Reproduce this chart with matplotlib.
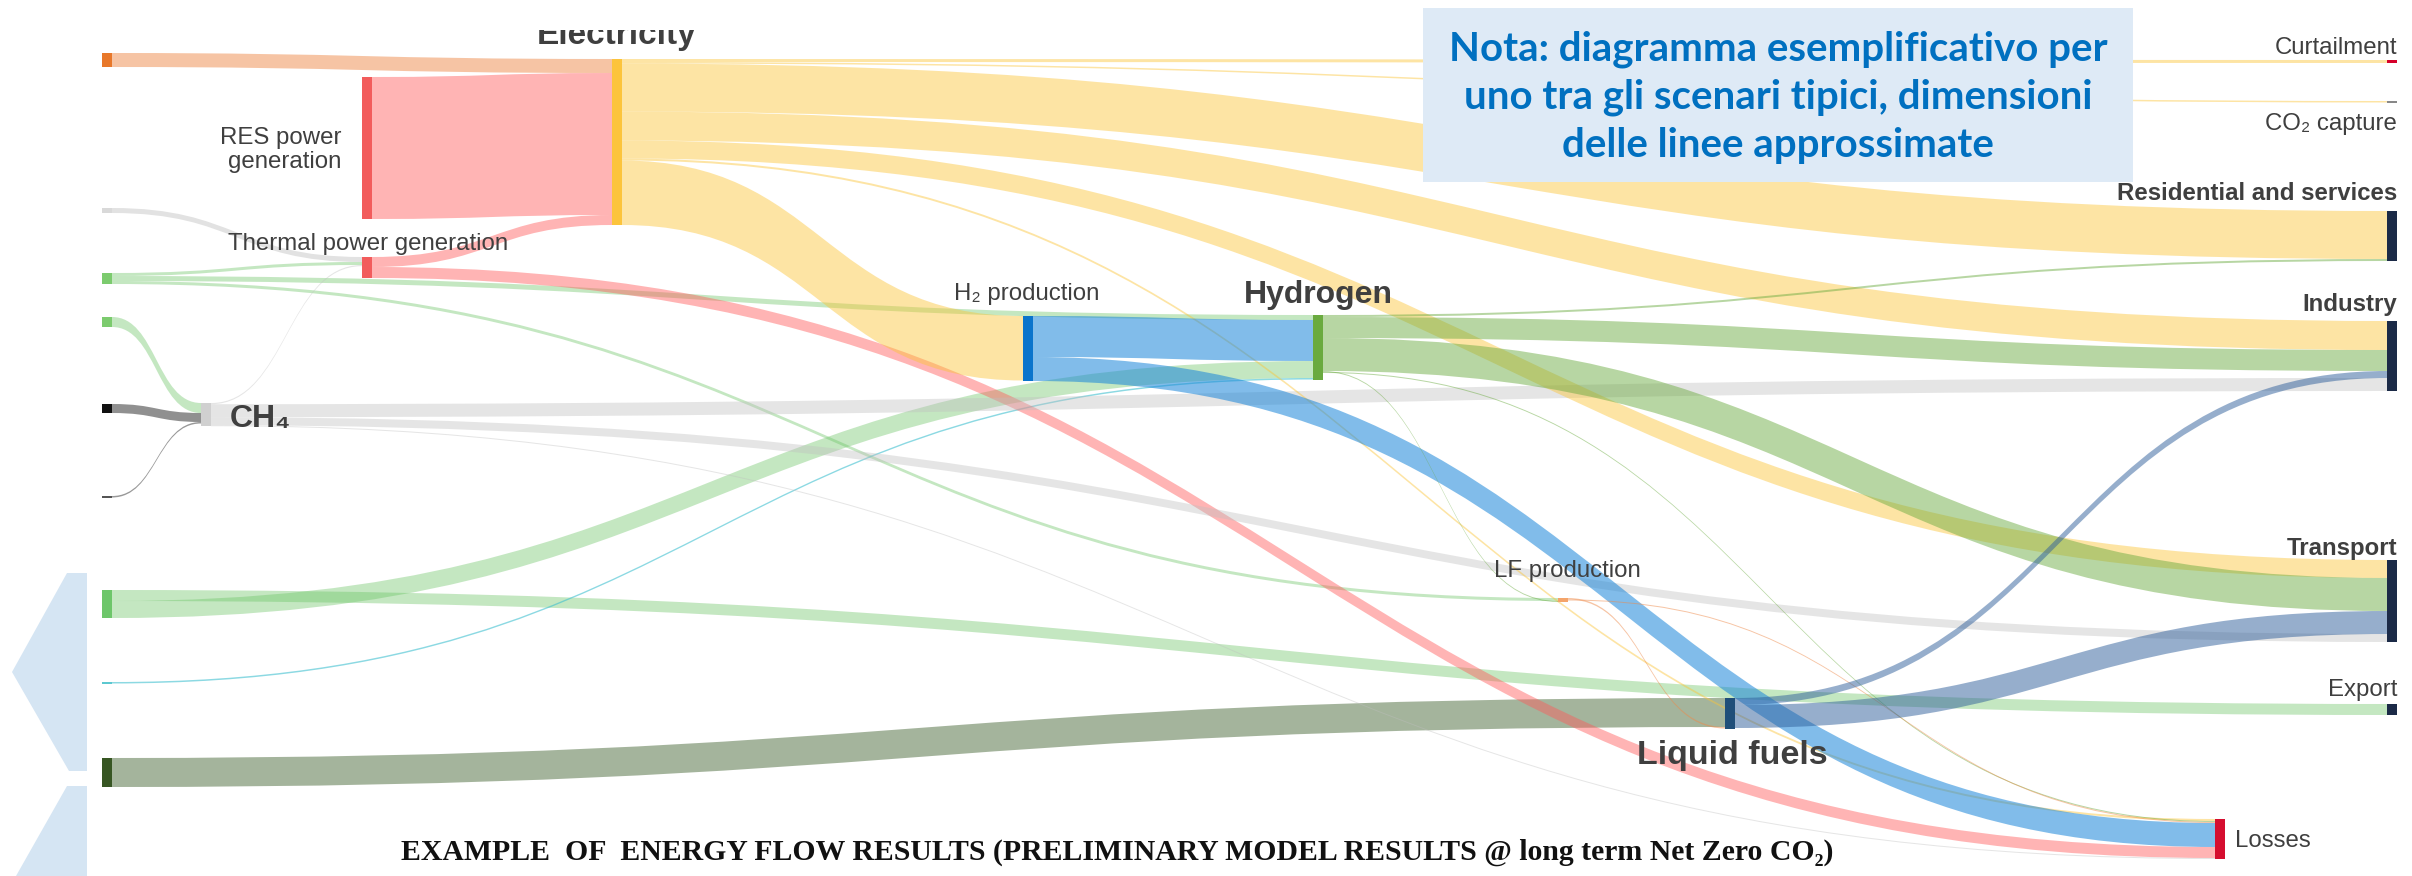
import matplotlib
matplotlib.use("Agg")
import matplotlib.pyplot as plt
from matplotlib.path import Path
from matplotlib.patches import PathPatch, Rectangle, Polygon

# ---- data: nodes and flows (values in arbitrary energy units) ----
nodes = ["imp", "grey", "bio1", "bio2", "gas", "small", "bio3", "cyan", "oil",
         "CH4", "RES", "Thermal", "Electricity", "H2prod", "Hydrogen",
         "LFprod", "Liquid fuels", "Losses", "Curtailment", "CO2 capture",
         "Residential", "Industry", "Transport", "Export"]

link_source = ["imp", "grey", "bio1", "bio1", "bio1", "bio2", "gas", "small",
               "bio3", "bio3", "cyan", "oil", "RES", "Thermal", "Thermal",
               "CH4", "CH4", "CH4", "CH4",
               "Electricity", "Electricity", "Electricity", "Electricity",
               "Electricity", "Electricity", "Electricity",
               "H2prod", "H2prod",
               "Hydrogen", "Hydrogen", "Hydrogen", "Hydrogen", "Hydrogen",
               "LFprod", "LFprod", "Liquid fuels", "Liquid fuels"]
link_target = ["Electricity", "Thermal", "Thermal", "Hydrogen", "LFprod", "CH4", "CH4", "CH4",
               "Export", "Hydrogen", "Hydrogen", "Liquid fuels", "Electricity", "Electricity", "Losses",
               "Thermal", "Industry", "Transport", "Losses",
               "Curtailment", "CO2 capture", "Residential", "Industry",
               "Transport", "Losses", "H2prod",
               "Hydrogen", "Losses",
               "Residential", "Industry", "Transport", "LFprod", "Losses",
               "Liquid fuels", "Losses", "Industry", "Transport"]
link_value = [14, 5, 3, 5, 3, 10, 9, 1.5,
              11, 17, 1.5, 29, 142, 10, 11,
              1.2, 13, 8, 1,
              3, 1.5, 48, 29,
              18, 2, 64.5,
              41, 24,
              2, 21, 33, 1, 1,
              1.5, 1, 7, 23]

# ---- layout ----
node_left = {"imp": 102, "grey": 102, "bio1": 102, "bio2": 102, "gas": 102, "small": 102,
             "bio3": 102, "cyan": 102, "oil": 102, "CH4": 201, "RES": 362, "Thermal": 362,
             "Electricity": 612, "H2prod": 1023, "Hydrogen": 1313, "LFprod": 1558,
             "Liquid fuels": 1725, "Losses": 2215, "Curtailment": 2387, "CO2 capture": 2387,
             "Residential": 2387, "Industry": 2387, "Transport": 2387, "Export": 2387}
node_top = {"imp": 53, "grey": 208, "bio1": 273, "bio2": 317, "gas": 404, "small": 496,
            "bio3": 590, "cyan": 682, "oil": 758, "CH4": 403, "RES": 77, "Thermal": 257,
            "Electricity": 59, "H2prod": 316, "Hydrogen": 315, "LFprod": 598,
            "Liquid fuels": 698, "Losses": 819, "Curtailment": 60, "CO2 capture": 101,
            "Residential": 211, "Industry": 321, "Transport": 560, "Export": 704}
node_w = 10

out_order = {"bio1": ["Thermal", "Hydrogen", "LFprod"],
             "bio3": ["Export", "Hydrogen"],
             "Thermal": ["Electricity", "Losses"],
             "CH4": ["Thermal", "Industry", "Transport", "Losses"],
             "Electricity": ["Curtailment", "CO2 capture", "Residential", "Industry",
                             "Transport", "Losses", "H2prod"],
             "H2prod": ["Hydrogen", "Losses"],
             "Hydrogen": ["Residential", "Industry", "Transport", "LFprod", "Losses"],
             "LFprod": ["Liquid fuels", "Losses"],
             "Liquid fuels": ["Industry", "Transport"]}
in_order = {"Electricity": ["imp", "RES", "Thermal"],
            "Thermal": ["grey", "bio1", "CH4"],
            "CH4": ["bio2", "gas", "small"],
            "Hydrogen": ["bio1", "H2prod", "bio3", "cyan"],
            "LFprod": ["bio1", "Hydrogen"],
            "Liquid fuels": ["oil", "LFprod"],
            "Residential": ["Electricity", "Hydrogen"],
            "Industry": ["Electricity", "Hydrogen", "Liquid fuels", "CH4"],
            "Transport": ["Electricity", "Hydrogen", "Liquid fuels", "CH4"],
            "Losses": ["Electricity", "Hydrogen", "LFprod", "H2prod", "Thermal", "CH4"]}

node_color = {"imp": "#E8782A", "grey": "#D9D9D9", "bio1": "#7CCB6E", "bio2": "#7CCB6E",
              "gas": "#111111", "small": "#555555", "bio3": "#6DC66A", "cyan": "#5CC8D0",
              "oil": "#375623", "CH4": "#D0D0D0", "RES": "#F25C5C", "Thermal": "#F25C5C",
              "Electricity": "#FCC43C", "H2prod": "#0A74CC", "Hydrogen": "#6AAA3F",
              "LFprod": "#F4A46A", "Liquid fuels": "#1F4E79", "Losses": "#D50E2F",
              "Curtailment": "#D6002A", "CO2 capture": "#888888", "Residential": "#1B2A47",
              "Industry": "#1B2A47", "Transport": "#1B2A47", "Export": "#1B2A47"}
link_style = {"imp": ("#EE8A4A", 0.5), "grey": ("#BFBFBF", 0.45), "bio1": ("#6CC466", 0.4),
              "bio2": ("#6CC466", 0.4), "gas": ("#555555", 0.65), "small": ("#555555", 0.6),
              "bio3": ("#6CC466", 0.4), "cyan": ("#40C0D0", 0.6), "oil": ("#4A6A3A", 0.5),
              "CH4": ("#BFBFBF", 0.4), "RES": ("#FF5A5A", 0.45), "Thermal": ("#FF5A5A", 0.45),
              "Electricity": ("#FBC437", 0.45), "H2prod": ("#1A86D9", 0.55),
              "Hydrogen": ("#6AAA3F", 0.48), "LFprod": ("#EE8A4A", 0.5),
              "Liquid fuels": ("#2F5F9B", 0.5)}

# ---- compute stacking ----
n_links = len(link_value)
src_off, tgt_off = {}, {}
for n in nodes:
    outs = [i for i in range(n_links) if link_source[i] == n]
    ins = [i for i in range(n_links) if link_target[i] == n]
    if n in out_order:
        outs.sort(key=lambda i: out_order[n].index(link_target[i]))
    if n in in_order:
        ins.sort(key=lambda i: in_order[n].index(link_source[i]))
    y = node_top[n]
    for i in outs:
        src_off[i] = y
        y += link_value[i]
    y = node_top[n]
    for i in ins:
        tgt_off[i] = y
        y += link_value[i]

node_h = {}
for n in nodes:
    s_out = sum(link_value[i] for i in range(n_links) if link_source[i] == n)
    s_in = sum(link_value[i] for i in range(n_links) if link_target[i] == n)
    node_h[n] = max(s_out, s_in)

fig = plt.figure(figsize=(24.12, 8.76), dpi=100)
ax = fig.add_axes([0, 0, 1, 1])
ax.set_xlim(0, 2412)
ax.set_ylim(876, 0)
ax.axis("off")

# left decorative chevrons
ax.add_patch(Polygon([(67, 573), (87, 573), (87, 771), (69, 771), (12, 672)],
                     closed=True, color="#D5E5F3", lw=0, zorder=0))
ax.add_patch(Polygon([(67, 786), (87, 786), (87, 876), (16, 876)],
                     closed=True, color="#D5E5F3", lw=0, zorder=0))

# links
for i in range(n_links):
    s, t, v = link_source[i], link_target[i], link_value[i]
    x0 = node_left[s] + node_w
    x1 = node_left[t]
    y0, y1 = src_off[i], tgt_off[i]
    xm = (x0 + x1) / 2
    verts = [(x0, y0), (xm, y0), (xm, y1), (x1, y1),
             (x1, y1 + v), (xm, y1 + v), (xm, y0 + v), (x0, y0 + v), (x0, y0)]
    codes = [Path.MOVETO, Path.CURVE4, Path.CURVE4, Path.CURVE4,
             Path.LINETO, Path.CURVE4, Path.CURVE4, Path.CURVE4, Path.CLOSEPOLY]
    col, a = link_style[s]
    ax.add_patch(PathPatch(Path(verts, codes), facecolor=col, alpha=a, lw=0, zorder=1))

# nodes
for n in nodes:
    ax.add_patch(Rectangle((node_left[n], node_top[n]), node_w, node_h[n],
                           color=node_color[n], lw=0, zorder=3))

sans = ["Liberation Sans", "DejaVu Sans"]
tc = "#3F3F3F"
ax.text(341, 150, "RES power\ngeneration", ha="right", va="center", fontsize=17.3,
        family=sans, color=tc, linespacing=1.15, multialignment="right", zorder=4)
ax.text(368, 250, "Thermal power generation", ha="center", va="baseline", fontsize=17.3,
        family=sans, color=tc, zorder=4)
ax.text(1027, 300, "H₂ production", ha="center", va="baseline", fontsize=17.3,
        family=sans, color=tc, zorder=4)
ax.text(1318, 303, "Hydrogen", ha="center", va="baseline", fontsize=23, fontweight="bold",
        family=sans, color=tc, zorder=4)
ax.text(617, 44, "Electricity", ha="center", va="baseline", fontsize=24, fontweight="bold",
        family=sans, color=tc, zorder=4)
ax.add_patch(Rectangle((525, 0), 185, 30, color="white", lw=0, zorder=5))
ax.text(230, 427, "CH₄", ha="left", va="baseline", fontsize=23, fontweight="bold",
        family=sans, color=tc, zorder=4)
ax.text(1567, 577, "LF production", ha="center", va="baseline", fontsize=17.3,
        family=sans, color=tc, zorder=4)
ax.text(1732, 764, "Liquid fuels", ha="center", va="baseline", fontsize=24.5, fontweight="bold",
        family=sans, color=tc, zorder=4)

right_labels = [("Curtailment", 54, "normal"), ("CO₂ capture", 130, "normal"),
                ("Residential and services", 200, "bold"), ("Industry", 311, "bold"),
                ("Transport", 555, "bold"), ("Export", 696, "normal")]
for lab, yb, w in right_labels:
    ax.text(2397, yb, lab, ha="right", va="baseline", fontsize=17.3, fontweight=w,
            family=sans, color=tc, zorder=4)
ax.text(2235, 841, "Losses", ha="left", va="center", fontsize=17.3,
        family=sans, color=tc, zorder=4)

# note box
ax.add_patch(Rectangle((1423, 8), 710, 174, color="#DEEAF6", lw=0, zorder=6))
ax.text(1778, 97, "Nota: diagramma esemplificativo per\nuno tra gli scenari tipici, dimensioni\ndelle linee approssimate",
        ha="center", va="center", fontsize=29, fontweight="bold", family=["Lato", "DejaVu Sans"],
        color="#0070C0", linespacing=1.36, zorder=7)

# bottom title
ax.text(1117, 860, "EXAMPLE  OF  ENERGY FLOW RESULTS (PRELIMINARY MODEL RESULTS @ long term Net Zero CO₂)",
        ha="center", va="baseline", fontsize=21.4, fontweight="bold",
        family=["Liberation Serif", "DejaVu Serif"], color="#111111", zorder=4)

fig.savefig("out.png", dpi=100)
